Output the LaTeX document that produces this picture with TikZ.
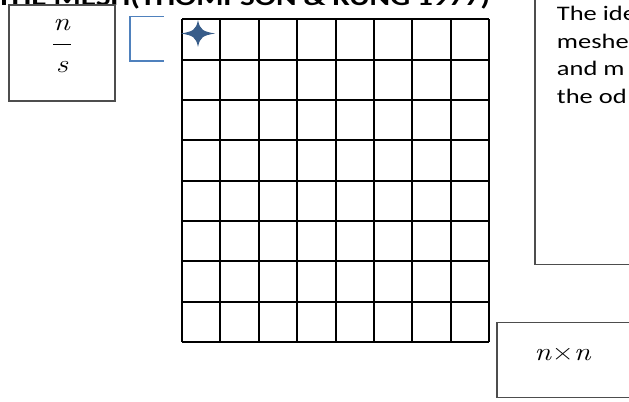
\documentclass[tikz,border=0pt]{standalone}
\usepackage{graphicx}
\usepackage{fontspec}
\newfontfamily\calibri{Carlito}
\newcommand\xwide[2]{\scalebox{#1}[1]{#2}}
\definecolor{boxgray}{HTML}{4D4D4D}
\definecolor{brblue}{HTML}{4F81BD}
\definecolor{stardark}{HTML}{385D8A}
\tikzset{
  framebox/.style={draw=boxgray, line width=0.9pt},
  gridline/.style={draw=black, line width=1.5pt},
  bodytxt/.style={inner sep=0pt, anchor=base west, font=\calibri\fontsize{15.5}{18}\selectfont},
  titletxt/.style={inner sep=0pt, anchor=base west, font=\calibri\bfseries\fontsize{18}{21}\selectfont},
  mathtxt/.style={inner sep=0pt, anchor=base, font=\fontsize{19}{22}\selectfont\itshape},
}
\begin{document}
\begin{tikzpicture}[x=0.75pt,y=-0.75pt]
\useasboundingbox (0,0) rectangle (629,402);
% title (top cut off)
\node[titletxt] (title) at (-4,6) {\xwide{1.3}{THE MESH(THOMPSON \& KUNG 1977)}};
% n/s box
\draw[framebox] (9,5) rectangle (115,101);
\node[mathtxt] (num) at (61.5,30.7) {\xwide{1.2}{n}};
\node[mathtxt] (den) at (62,73) {\xwide{1.2}{s}};
\draw[line width=1.1pt] (53,44.3) -- (70.7,44.3);
% blue bracket
\draw[draw=brblue, line width=1.2pt] (163.5,16.5) -- (130,16.5) -- (130,61) -- (163.5,61);
% grid
\foreach \i in {0,...,8} {
  \draw[gridline] ({182+\i*38.375},19.3) -- ({182+\i*38.375},342);
  \draw[gridline] (182,{19.3+\i*40.34}) -- (489,{19.3+\i*40.34});
}
% star
\fill[stardark] (181,33.5) .. controls (193,31.5) and (196,30) .. (198,20)
  .. controls (200,30) and (203,31.5) .. (215,33.5)
  .. controls (203,35.5) and (200,37) .. (198,47)
  .. controls (196,37) and (193,35.5) .. cycle;
% right text box
\draw[framebox] (535,-5) rectangle (640,264.5);
\node[bodytxt] (l1) at (556.7,20.7) {\xwide{1.28}{The ide}};
\node[bodytxt] (l2) at (556.7,48.2) {\xwide{1.28}{meshe}};
\node[bodytxt] (l3) at (556.7,76) {\xwide{1.28}{and m}};
\node[bodytxt] (l4) at (556.7,103.8) {\xwide{1.28}{the od}};
% n x n box
\draw[framebox] (497,322.7) rectangle (640,397.3);
\node[mathtxt] (nn) at (562.5,361) {\xwide{1.2}{n\/\upshape×\itshape n}};
\end{tikzpicture}
\end{document}
